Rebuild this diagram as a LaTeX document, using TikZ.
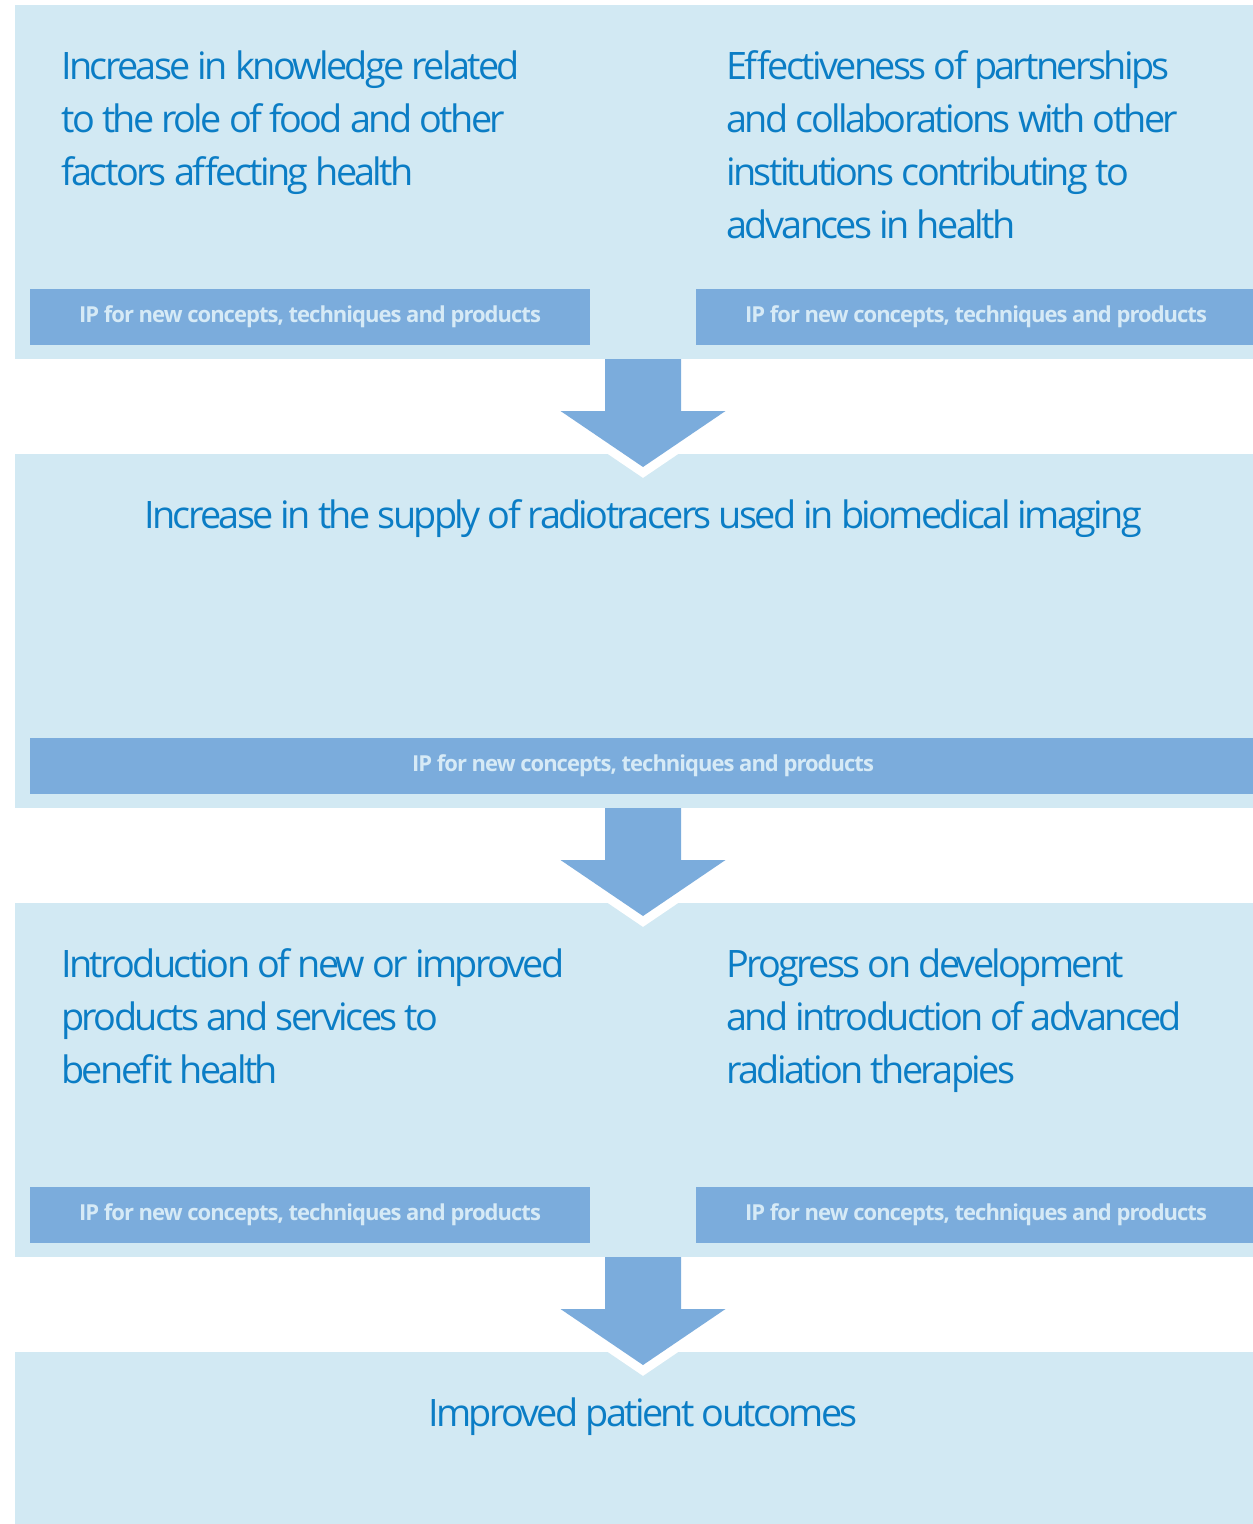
\documentclass[tikz,border=0pt]{standalone}
\usepackage{fontspec}
\setmainfont{Open Sans}
\newfontfamily\headfont{Open Sans}[LetterSpace=-7]
\newfontfamily\barfont{Open Sans}[LetterSpace=-4.5]
\usetikzlibrary{positioning}
\definecolor{panelbg}{HTML}{D2E9F3}
\definecolor{barblue}{HTML}{7BACDC}
\definecolor{textblue}{HTML}{0B7DC5}
\definecolor{bartext}{HTML}{D6EAF6}

\begin{document}
\begin{tikzpicture}[x=0.5pt, y=-0.5pt, node distance=47.5pt,
    panel/.style={fill=panelbg, inner sep=0pt, outer sep=0pt, minimum width=628pt, minimum height=177pt},
    bar/.style={fill=barblue, text=bartext, inner sep=0pt, outer sep=0pt, minimum height=28pt, font=\barfont\fontsize{11}{13}\selectfont\bfseries},
    headline/.style={text=textblue, inner sep=0pt, align=left, font=\headfont\fontsize{18.9}{26.5}\selectfont},
    flow/.style={fill=barblue}]
    \useasboundingbox (0,0) rectangle (1252,1524);

    % panels
    \node[panel, anchor=north west] (p1) at (15,5) {};
    \node[panel, below=of p1] (p2) {};
    \node[panel, below=of p2] (p3) {};
    \node[panel, below=of p3, minimum height=86.5pt] (p4) {};

    % headlines
    \node[headline, anchor=north west] (t1l) at ([shift={(23pt,-22.6pt)}]p1.north west)
        {Increase in knowledge related\\to the role of food and other\\factors affecting health};
    \node[headline, anchor=north west] (t1r) at ([shift={(41.5pt,-22.6pt)}]p1.north)
        {Effectiveness of partnerships\\and collaborations with other\\institutions contributing to\\advances in health};
    \node[headline, anchor=north] (t2) at ([yshift=-22.6pt]p2.north)
        {Increase in the supply of radiotracers used in biomedical imaging};
    \node[headline, anchor=north west] (t3l) at ([shift={(23pt,-22.6pt)}]p3.north west)
        {Introduction of new or improved\\products and services to\\benefit health};
    \node[headline, anchor=north west] (t3r) at ([shift={(41.5pt,-22.6pt)}]p3.north)
        {Progress on development\\and introduction of advanced\\radiation therapies};
    \node[headline, anchor=north] (t4) at ([yshift=-22.6pt]p4.north)
        {Improved patient outcomes};

    % IP bars
    \node[bar, minimum width=280pt, anchor=south west] (b1l) at ([shift={(7.5pt,7pt)}]p1.south west)
        {IP for new concepts, techniques and products};
    \node[bar, minimum width=280pt, anchor=south east] (b1r) at ([shift={(-7.5pt,7pt)}]p1.south east)
        {IP for new concepts, techniques and products};
    \node[bar, minimum width=613pt, anchor=south] (b2) at ([yshift=7pt]p2.south)
        {IP for new concepts, techniques and products};
    \node[bar, minimum width=280pt, anchor=south west] (b3l) at ([shift={(7.5pt,7pt)}]p3.south west)
        {IP for new concepts, techniques and products};
    \node[bar, minimum width=280pt, anchor=south east] (b3r) at ([shift={(-7.5pt,7pt)}]p3.south east)
        {IP for new concepts, techniques and products};

    % arrows between panels
    \foreach \a/\b in {p1/p2, p2/p3, p3/p4}{
        \draw[white, line width=9pt, miter limit=10] ([shift={(-41.25pt,-26pt)}]\a.south)
            -- ([yshift=-6.5pt]\b.north) -- ([shift={(41.25pt,-26pt)}]\a.south);
        \fill[flow] ([xshift=-19pt]\a.south) -- ([shift={(-19pt,-26pt)}]\a.south)
            -- ([shift={(-41.25pt,-26pt)}]\a.south) -- ([yshift=-6.5pt]\b.north)
            -- ([shift={(41.25pt,-26pt)}]\a.south) -- ([shift={(19pt,-26pt)}]\a.south)
            -- ([xshift=19pt]\a.south) -- cycle;
    }
\end{tikzpicture}
\end{document}
